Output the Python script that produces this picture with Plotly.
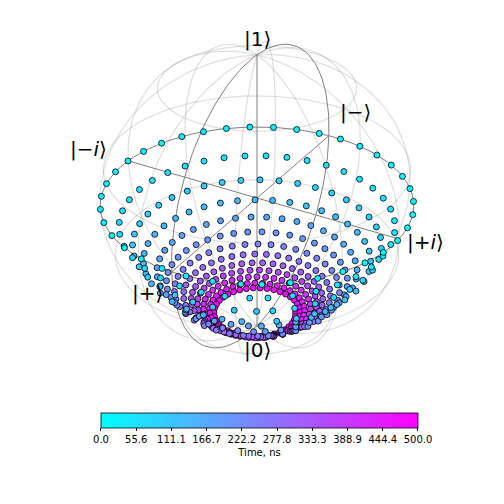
import numpy as np
import plotly.graph_objects as go

# Bloch-sphere trajectory: one ring of samples per precession turn
ring_radius = [1.00, 0.89, 0.81, 0.745, 0.66, 0.60, 0.55, 0.49, 0.44, 0.40, 0.36, 0.32, 0.29, 0.26]
ring_height = [0.00, -0.17, -0.32, -0.445, -0.535, -0.62, -0.69, -0.735, -0.775, -0.81, -0.84, -0.865, -0.885, -0.90]
period_ns = 37.73        # one precession turn
start_phase_deg = 31.6
time_ns = np.arange(0, 501)  # sample times, 1 ns step

cbar_ticks = [0.0, 55.6, 111.1, 166.7, 222.2, 277.8, 333.3, 388.9, 444.4, 500.0]

axis_labels = ["|1⟩", "|0⟩", "|+⟩", "|−⟩", "|+<i>i</i>⟩", "|−<i>i</i>⟩"]
label_xyz = [(0, 0, 1.1), (0, 0, -1.2), (1.25, 0, 0), (-1.42, 0, 0), (0, 1.17, 0.03), (0, -1.33, 0)]

# view like qutip / matplotlib: azim -60, elev 30, mild perspective
AZ, EL, DIST = np.radians(-60), np.radians(30), 8.8


def project(X, Y, Z):
    # X, Y, Z in matplotlib axes coordinates
    X, Y, Z = np.asarray(X, float), np.asarray(Y, float), np.asarray(Z, float)
    right = -X * np.sin(AZ) + Y * np.cos(AZ)
    up = -X * np.sin(EL) * np.cos(AZ) - Y * np.sin(EL) * np.sin(AZ) + Z * np.cos(EL)
    depth = X * np.cos(EL) * np.cos(AZ) + Y * np.cos(EL) * np.sin(AZ) + Z * np.sin(EL)
    s = DIST / (DIST - depth)
    return s * right, s * up, depth


def bloch(bx, by, bz):
    # qutip plots bloch (x, y, z) as (y, -x, z)
    return project(by, -np.asarray(bx, float), bz)


def add_lines(fig, segs, color, width):
    xs, ys = [], []
    for X, Y, Z in segs:
        px, py, _ = project(X, Y, Z)
        xs += list(px) + [None]
        ys += list(py) + [None]
    fig.add_trace(go.Scatter(x=xs, y=ys, mode="lines", hoverinfo="skip",
                             line=dict(color=color, width=width)))


fig = go.Figure()

# light wireframe
v = np.linspace(0, np.pi, 60)
u_full = np.linspace(-np.pi, np.pi, 120)
wire = []
for ud in [0, 37.5, 75, 112.5, 150, 180, -142.5, -105, -67.5, -30]:
    u = np.radians(ud)
    wire.append((np.cos(u) * np.sin(v), np.sin(u) * np.sin(v), np.cos(v)))
for vd in [37.5, 75, 112.5, 150]:
    vv = np.radians(vd)
    wire.append((np.cos(u_full) * np.sin(vv), np.sin(u_full) * np.sin(vv), np.full_like(u_full, np.cos(vv))))
add_lines(fig, wire, "rgba(128,128,128,0.25)", 1.2)

# frame: equator, one meridian circle and the axes
c = np.linspace(0, 2 * np.pi, 160)
zero = np.zeros_like(c)
frame = [(np.cos(c), np.sin(c), zero), (zero, np.cos(c), np.sin(c)),
         ([-1, 1], [0, 0], [0, 0]), ([0, 0], [-1, 1], [0, 0]), ([0, 0], [0, 0], [-1, 1])]
add_lines(fig, frame, "rgb(128,128,128)", 1)

# points
ring = np.floor(time_ns / period_ns).astype(int)
phi = np.radians(start_phase_deg) + 2 * np.pi * time_ns / period_ns
r = np.array(ring_radius)[ring]
z = np.array(ring_height)[ring]
px, py, depth = bloch(r * np.cos(phi), r * np.sin(phi), z)
order = np.argsort(depth)

fig.add_trace(go.Scatter(
    x=px[order], y=py[order], mode="markers", hoverinfo="skip",
    marker=dict(size=6, color=time_ns[order], cmin=0, cmax=500,
                colorscale=[[0, "rgb(0,255,255)"], [1, "rgb(255,0,255)"]],
                line=dict(color="black", width=0.8),
                showscale=True,
                colorbar=dict(orientation="h", x=0.499, xanchor="center", y=0.196, yanchor="top",
                              len=0.629, thickness=15, xpad=0, ypad=0,
                              outlinewidth=0.8, outlinecolor="black",
                              tickvals=cbar_ticks, ticktext=[f"{t:.1f}" for t in cbar_ticks],
                              ticks="outside", ticklen=3.5, tickwidth=0.8, tickcolor="black",
                              tickfont=dict(size=10, family="DejaVu Sans", color="black"),
                              title=dict(text="Time, ns", side="bottom",
                                         font=dict(size=10, family="DejaVu Sans", color="black"))))))

for text, (bx, by, bz) in zip(axis_labels, label_xyz):
    lx, ly, _ = bloch(bx, by, bz)
    fig.add_annotation(x=float(lx), y=float(ly), text=text, showarrow=False,
                       xanchor="center", yanchor="middle",
                       font=dict(size=20, family="DejaVu Sans", color="black"))

# sphere centre in the page (the page body adds an 8 px offset)
R, CX, CY = 156.0, 249.0, 190.0
fig.update_layout(
    width=504, height=504, margin=dict(l=0, r=0, t=0, b=0, autoexpand=False),
    paper_bgcolor="white", plot_bgcolor="white", showlegend=False,
    xaxis=dict(visible=False, range=[-CX / R, (504 - CX) / R]),
    yaxis=dict(visible=False, range=[-(504 - CY) / R, CY / R]),
)

fig.write_html("out.html")
